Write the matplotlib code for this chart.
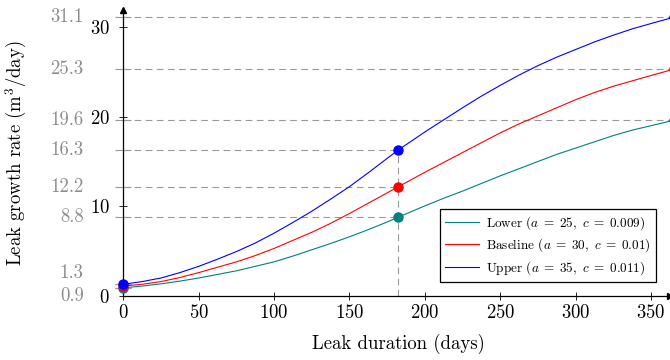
import matplotlib
matplotlib.use("Agg")
import matplotlib.pyplot as plt

# days and leak growth rate (m^3/day)
days = [0, 12.5, 25, 37.5, 50, 62.5, 75, 87.5, 100, 112.5, 125, 137.5, 150, 162.5,
        175, 182.5, 200, 212.5, 225, 237.5, 250, 262.5, 275, 287.5, 300, 312.5,
        325, 337.5, 350, 365]
lower = [0.9, 1.1, 1.35, 1.65, 2.0, 2.4, 2.8, 3.3, 3.8, 4.45, 5.15, 5.85, 6.6, 7.4,
         8.25, 8.8, 10.05, 10.9, 11.7, 12.55, 13.4, 14.2, 15.0, 15.8, 16.5, 17.2,
         17.9, 18.5, 19.0, 19.6]
baseline = [1.1, 1.3, 1.6, 2.05, 2.6, 3.2, 3.8, 4.5, 5.3, 6.2, 7.1, 8.1, 9.2, 10.35,
            11.5, 12.2, 13.8, 14.9, 16.0, 17.1, 18.2, 19.2, 20.1, 21.0, 21.9, 22.7,
            23.4, 24.0, 24.6, 25.3]
upper = [1.3, 1.6, 2.0, 2.6, 3.3, 4.1, 4.95, 5.9, 7.0, 8.2, 9.45, 10.8, 12.2, 13.75,
         15.35, 16.3, 18.3, 19.65, 21.0, 22.3, 23.5, 24.65, 25.7, 26.65, 27.5, 28.35,
         29.1, 29.8, 30.4, 31.1]

series = [
    (r"Lower ($a\;=\;25,\ c\;=\;0.009$)", lower, "#008080"),
    (r"Baseline ($a\;=\;30,\ c\;=\;0.01$)", baseline, "#ff0000"),
    (r"Upper ($a\;=\;35,\ c\;=\;0.011$)", upper, "#0000ff"),
]

mark_days = [0, 182.5, 365]
mid_day = 182.5
mid_vals = [8.8, 12.2, 16.3]
end_vals = [19.6, 25.3, 31.1]
start_vals = [0.9, 1.3]
gray_labels = ["31.1", "25.3", "19.6", "16.3", "12.2", "8.8", "1.3", "0.9"]
gray_vals = [31.1, 25.3, 19.6, 16.3, 12.2, 8.8, 1.3, 0.9]
gray_shift = [0, 0, 0, 0, 0, 0, 8, -6]  # points, to keep the low labels apart

plt.rcParams["font.family"] = "serif"
plt.rcParams["font.serif"] = ["cmr10", "DejaVu Serif"]
plt.rcParams["mathtext.fontset"] = "cm"
plt.rcParams["axes.formatter.use_mathtext"] = True


def main():
    fig = plt.figure(figsize=(6.7, 3.6), dpi=100)
    ax = fig.add_axes([0.184, 0.178, 0.8215, 0.794])
    ax.set_xlim(0, 365)
    ax.set_ylim(0, 31.9)

    gray = "#999999"
    dash = (0, (6, 4))
    for v in mid_vals:
        ax.hlines(v, 0, mid_day, colors=gray, linestyles=dash, lw=0.8, zorder=1)
    for v in end_vals:
        ax.hlines(v, 0, 365, colors=gray, linestyles=dash, lw=0.8, zorder=1)
    ax.vlines(mid_day, 0, max(mid_vals), colors=gray, linestyles=dash, lw=0.8, zorder=1)

    for label, vals, color in series:
        ax.plot(days, vals, color=color, lw=0.8, label=label, zorder=3)
        mv = [vals[days.index(d)] for d in mark_days]
        ax.plot(mark_days, mv, "o", color=color, ms=6.5, clip_on=False, zorder=4)

    for sp in ["top", "right"]:
        ax.spines[sp].set_visible(False)
    for sp in ["left", "bottom"]:
        ax.spines[sp].set_linewidth(0.9)
    ax.plot(0.993, 0, ">", color="black", ms=4, transform=ax.transAxes, clip_on=False)
    ax.plot(0, 1, "^", color="black", ms=4, transform=ax.transAxes, clip_on=False)

    ax.set_xticks(range(0, 351, 50))
    ax.set_yticks([0, 10, 20, 30])
    ax.tick_params(axis="both", which="major", direction="inout", length=6,
                   width=0.6, labelsize=13.5, colors="black")
    ax.tick_params(axis="x", pad=3)
    ax.tick_params(axis="y", pad=6.5)
    ax.set_yticks(gray_vals + start_vals, minor=True)
    ax.tick_params(axis="y", which="minor", direction="inout", length=11,
                   width=0.8, color=gray, labelleft=False)

    for lab, v, dy in zip(gray_labels, gray_vals, gray_shift):
        ax.annotate(lab, xy=(0, v), xycoords=ax.get_yaxis_transform(),
                    xytext=(-28.5, dy), textcoords="offset points",
                    ha="right", va="center", fontsize=13.5, color="#8c8c8c")

    ax.set_xlabel("Leak duration (days)", fontsize=13.5, labelpad=8)
    ax.set_ylabel("Leak growth rate (m$^3$/day)", fontsize=13.5)
    ax.yaxis.set_label_coords(-0.172, 0.5)

    leg = ax.legend(loc="lower left", bbox_to_anchor=(0.575, 0.049),
                    borderaxespad=0, fontsize=9.5, frameon=True, fancybox=False,
                    edgecolor="black", framealpha=1, handlelength=2.6,
                    handletextpad=0.5, labelspacing=0.35, borderpad=0.4)
    leg.get_frame().set_linewidth(0.9)

    fig.savefig("out.png", dpi=100)


if __name__ == "__main__":
    main()
